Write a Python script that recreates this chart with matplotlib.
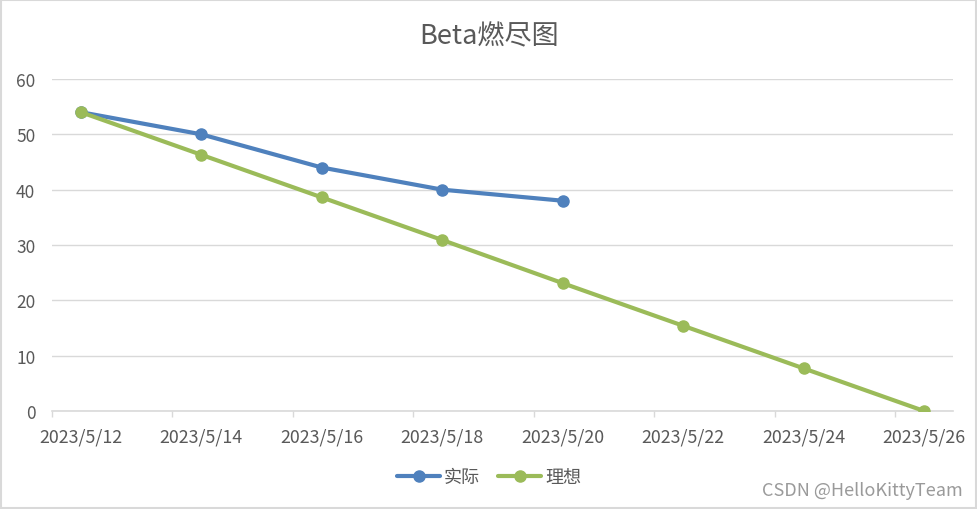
import numpy as np
import matplotlib.pyplot as plt
from matplotlib.patches import Rectangle

plt.rcParams['font.family'] = ['Noto Sans CJK SC', 'DejaVu Sans']

# data
dates = ['2023/5/12', '2023/5/14', '2023/5/16', '2023/5/18',
         '2023/5/20', '2023/5/22', '2023/5/24', '2023/5/26']
days = [0, 2, 4, 6, 8, 10, 12, 14]
actual = [54, 50, 44, 40, 38]
ideal = [54, 46.3, 38.6, 30.9, 23.1, 15.4, 7.7, 0]

blue = '#4F81BD'
green = '#9BBB59'
txt = '#595959'
grid = '#D9D9D9'

fig = plt.figure(figsize=(9.78, 5.10), dpi=100)
ax = fig.add_axes([52/978, (510-412)/510, (953-52)/978, (412-80)/510])

ax.plot(days[:len(actual)], actual, color=blue, lw=3, marker='o',
        ms=8, label='实际', solid_capstyle='round', zorder=3)
ax.plot(days, ideal, color=green, lw=3, marker='o',
        ms=8, label='理想', solid_capstyle='round', zorder=3)

ax.set_xlim(-0.48, 14.48)
ax.set_ylim(0, 60)
ax.set_yticks(range(0, 61, 10))
ax.set_xticks(days)
ax.set_xticklabels(dates)
ax.set_xticks([-0.48 + 2*k for k in range(8)], minor=True)
ax.tick_params(axis='x', which='major', length=0, pad=12, labelsize=12.8, labelcolor=txt)
ax.tick_params(axis='x', which='minor', length=4, width=1, color=grid, direction='out')
ax.tick_params(axis='y', length=0, pad=12, labelsize=12.5, labelcolor=txt)
ax.grid(axis='y', color=grid, lw=1)
ax.set_axisbelow(True)
for s in ['top', 'right', 'left']:
    ax.spines[s].set_visible(False)
ax.spines['bottom'].set_color(grid)
ax.spines['bottom'].set_linewidth(1.2)

fig.text(0.5, 1 - 37/510, 'Beta燃尽图', ha='center', va='center',
         fontsize=19.5, color=txt)

fig.legend(loc='center', bbox_to_anchor=(0.5, 1 - 478/510), ncol=2,
           frameon=False, fontsize=13, labelcolor=txt, handlelength=2.4,
           columnspacing=1.0, handletextpad=0.2)

fig.text(963/978, 1 - 491/510, 'CSDN @HelloKittyTeam', ha='right', va='center',
         fontsize=13, color='#9a9a9a')

fig.patches.append(Rectangle((0.001, 0.002), 0.997, 0.996, transform=fig.transFigure,
                             fill=False, edgecolor=grid, lw=1.5))

fig.savefig('out.png', dpi=100)
